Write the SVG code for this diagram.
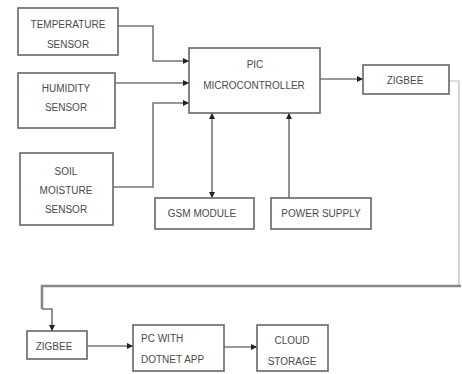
<svg xmlns="http://www.w3.org/2000/svg" width="462" height="374" viewBox="0 0 462 374">
<style>
.box{fill:#fff;stroke:#666;stroke-width:1.6}
.t{font-family:"Liberation Sans",Arial,sans-serif;font-size:10px;fill:#4a4a4a;text-anchor:middle}
.tl{font-family:"Liberation Sans",Arial,sans-serif;font-size:10px;fill:#4a4a4a}
.c{fill:none;stroke:#777;stroke-width:1.6}
.thick{fill:none;stroke:#888;stroke-width:2.6}
</style>
<defs>
<marker id="ah" viewBox="0 0 6 6" refX="6" refY="3" markerWidth="6" markerHeight="6" markerUnits="userSpaceOnUse" orient="auto">
<path d="M0,0 L6,3 L0,6 Z" fill="#222"/>
</marker>
<marker id="as" viewBox="0 0 6 6" refX="6" refY="3" markerWidth="6" markerHeight="6" markerUnits="userSpaceOnUse" orient="auto-start-reverse">
<path d="M0,0 L6,3 L0,6 Z" fill="#222"/>
</marker>
</defs>
<rect width="462" height="374" fill="#fff"/>
<g id="connectors">
<polyline class="c" points="118,26 153,26 153,61 189,61" marker-end="url(#ah)"/>
<polyline class="c" points="115,83 189,83" marker-end="url(#ah)"/>
<polyline class="c" points="113,187 153,187 153,103 189,103" marker-end="url(#ah)"/>
<line class="c" x1="212" y1="198" x2="212" y2="113" marker-start="url(#as)" marker-end="url(#as)"/>
<line class="c" x1="289" y1="198" x2="289" y2="113" marker-end="url(#ah)"/>
<line class="c" x1="320" y1="79" x2="363" y2="79" marker-end="url(#ah)"/>
<polyline class="c" points="449,81 459,81 459,286" style="stroke:#bbb;stroke-width:1.2"/>
<polyline class="thick" points="461,286 42,286 42,309"/>
<polyline class="c" points="42,309 52,309 52,331" marker-end="url(#ah)"/>
<line class="c" x1="87" y1="346" x2="133" y2="346" marker-end="url(#ah)"/>
<line class="c" x1="224" y1="347" x2="257" y2="347" marker-end="url(#ah)"/>
</g>
<g id="temperature">
<rect class="box" x="18" y="8" width="100" height="47"/>
<text class="t" x="68" y="28">TEMPERATURE</text>
<text class="t" x="68" y="48">SENSOR</text>
</g>
<g id="humidity">
<rect class="box" x="18" y="73" width="97" height="55"/>
<text class="t" x="66" y="92">HUMIDITY</text>
<text class="t" x="66" y="111">SENSOR</text>
</g>
<g id="soil">
<rect class="box" x="20" y="153" width="93" height="72"/>
<text class="t" x="66" y="175">SOIL</text>
<text class="t" x="66" y="194">MOISTURE</text>
<text class="t" x="66" y="213">SENSOR</text>
</g>
<g id="pic">
<rect class="box" x="189" y="48" width="131" height="65"/>
<text class="t" x="255" y="68">PIC</text>
<text class="t" x="254" y="89">MICROCONTROLLER</text>
</g>
<g id="zigbee1">
<rect class="box" x="363" y="65" width="86" height="29"/>
<text class="t" x="405" y="84">ZIGBEE</text>
</g>
<g id="gsm">
<rect class="box" x="155" y="198" width="99" height="31"/>
<text class="t" x="202" y="217">GSM MODULE</text>
</g>
<g id="power">
<rect class="box" x="271" y="198" width="100" height="31"/>
<text class="t" x="321" y="217">POWER SUPPLY</text>
</g>
<g id="zigbee2">
<rect class="box" x="27" y="331" width="60" height="28"/>
<text class="t" x="54" y="350">ZIGBEE</text>
</g>
<g id="pc">
<rect class="box" x="133" y="325" width="91" height="46"/>
<text class="tl" x="141" y="342">PC WITH</text>
<text class="tl" x="141" y="363">DOTNET APP</text>
</g>
<g id="cloud">
<rect class="box" x="257" y="325" width="71" height="46"/>
<text class="t" x="292" y="344">CLOUD</text>
<text class="t" x="292" y="365">STORAGE</text>
</g>
</svg>
